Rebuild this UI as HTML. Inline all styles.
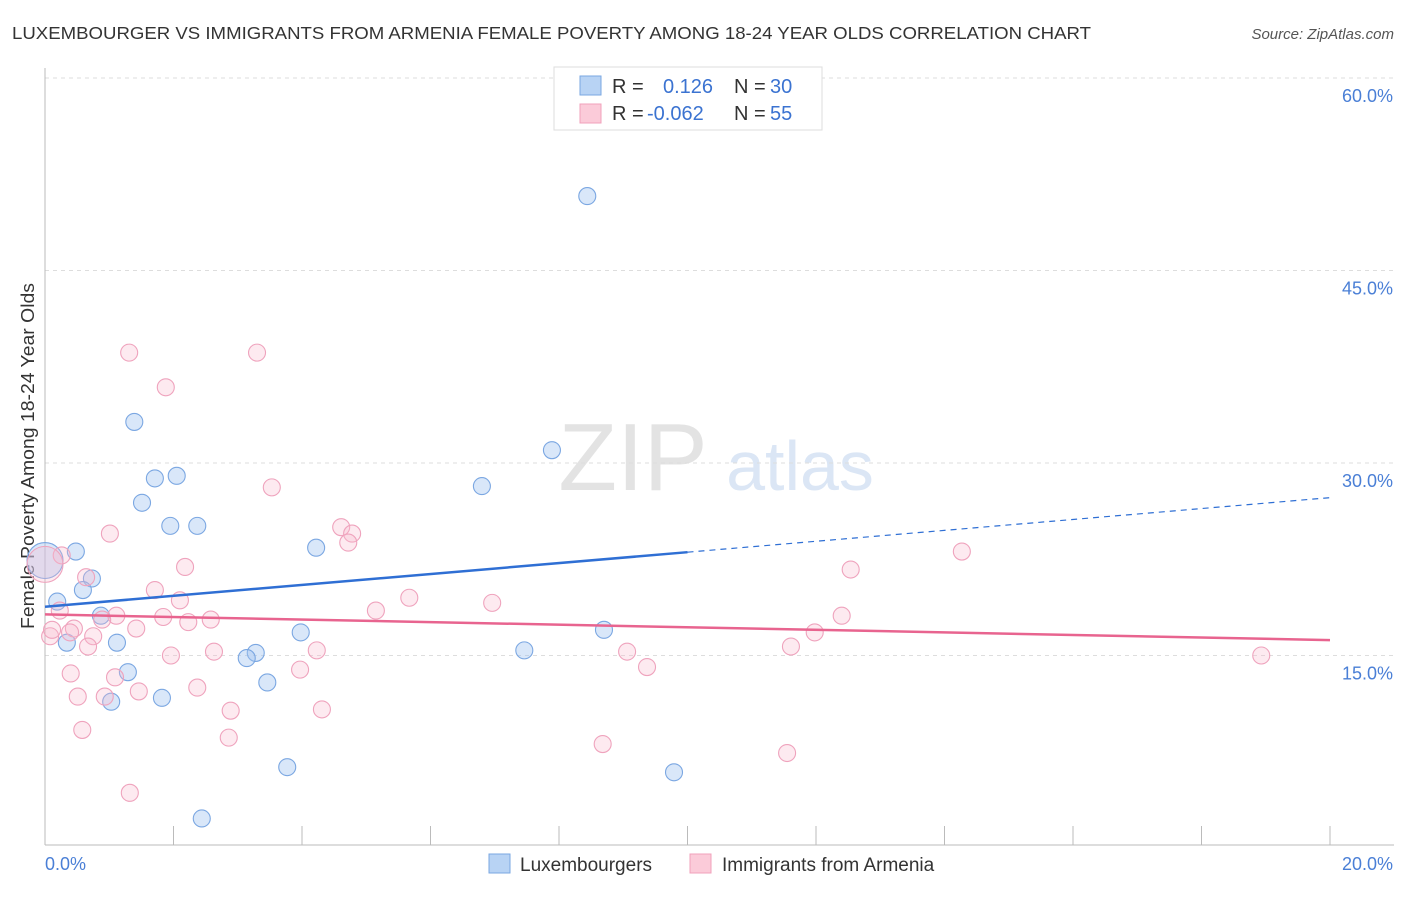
<!DOCTYPE html>
<html><head><meta charset="utf-8"><style>
body{margin:0;background:#fff;font-family:"Liberation Sans",sans-serif}
svg text{font-family:"Liberation Sans",sans-serif}
</style></head><body>
<svg id="c" width="1406" height="892">
<text x="12" y="39" font-size="17.5" fill="#333" textLength="1079" lengthAdjust="spacingAndGlyphs">LUXEMBOURGER VS IMMIGRANTS FROM ARMENIA FEMALE POVERTY AMONG 18-24 YEAR OLDS CORRELATION CHART</text>
<text x="1394" y="39" font-size="15" fill="#555" font-style="italic" text-anchor="end">Source: ZipAtlas.com</text>
<text x="633" y="490" font-size="96" fill="#e3e3e3" font-family="Liberation Serif" text-anchor="middle">ZIP</text>
<text x="800" y="490" font-size="70" fill="#dbe6f5" text-anchor="middle">atlas</text>
<text transform="translate(34,456) rotate(-90)" font-size="18" fill="#333" text-anchor="middle" textLength="346" lengthAdjust="spacingAndGlyphs">Female Poverty Among 18-24 Year Olds</text>
<g id="grid"></g><g id="pts"></g><g id="lines"></g>
<g>
<rect x="554" y="67" width="268" height="63" fill="#fff" stroke="#ddd"/>
<rect x="580" y="76" width="21" height="19" fill="#b8d3f4" stroke="#7aa7e2"/>
<rect x="580" y="104" width="21" height="19" fill="#fbcbd9" stroke="#f0a0bb"/>
<text x="612" y="93" font-size="20" fill="#333">R = </text><text x="663" y="93" font-size="20" fill="#3b73d1">0.126</text>
<text x="734" y="93" font-size="20" fill="#333">N = </text><text x="770" y="93" font-size="20" fill="#3b73d1">30</text>
<text x="612" y="120" font-size="20" fill="#333">R = </text><text x="647" y="120" font-size="20" fill="#3b73d1">-0.062</text>
<text x="734" y="120" font-size="20" fill="#333">N = </text><text x="770" y="120" font-size="20" fill="#3b73d1">55</text>
</g>
<g>
<rect x="489" y="854" width="21" height="19" fill="#b8d3f4" stroke="#7aa7e2"/>
<text x="520" y="871" font-size="19" fill="#333">Luxembourgers</text>
<rect x="690" y="854" width="21" height="19" fill="#fbcbd9" stroke="#f0a0bb"/>
<text x="722" y="871" font-size="19" fill="#333">Immigrants from Armenia</text>
</g>
</svg>
<script>
const blueX=[8.44,1.39,7.89,2.05,1.71,6.80,1.51,1.95,2.37,4.22,0.48,0.0,0.73,0.59,0.19,0.87,3.98,8.70,1.12,0.34,7.46,3.28,3.14,1.29,3.46,1.03,1.82,3.77,9.79,2.44];
const blueY=[50.8,33.2,31.0,29.0,28.8,28.2,26.9,25.1,25.1,23.4,23.1,22.4,21.0,20.1,19.2,18.1,16.8,17.0,16.0,16.0,15.4,15.2,14.8,13.7,12.9,11.4,11.7,6.3,5.9,2.3];
const pinkX=[1.31,3.30,1.88,3.53,1.01,4.61,4.78,4.72,14.27,0.26,2.18,12.54,0.64,1.71,5.67,2.10,5.15,6.96,12.40,0.23,1.11,0.89,1.42,0.45,0.39,0.08,0.11,0.75,2.23,2.58,11.98,0.67,2.63,1.96,4.23,9.06,11.61,3.97,9.37,0.40,1.09,1.46,2.37,0.51,0.93,2.89,4.31,0.58,2.86,8.68,11.55,1.32,18.93,0.0,1.84];
const pinkY=[38.6,38.6,35.9,28.1,24.5,25.0,24.5,23.8,23.1,22.8,21.9,21.7,21.1,20.1,19.5,19.3,18.5,19.1,18.1,18.5,18.1,17.8,17.1,17.1,16.8,16.5,17.0,16.5,17.6,17.8,16.8,15.7,15.3,15.0,15.4,15.3,15.7,13.9,14.1,13.6,13.3,12.2,12.5,11.8,11.8,10.7,10.8,9.2,8.6,8.1,7.4,4.3,15.0,22.1,18.0];
const blueBig=[11], pinkBig=[53];
const blueTrend=[18.8,27.3], pinkTrend=[18.2,16.2];
const yTicks=[15,30,45,60];
const xTicks=[0,2,4,6,8,10,12,14,16,18,20];
const NS='http://www.w3.org/2000/svg';
const X=v=>45+v/20*1285, Y=v=>848-v/60*770;
function mk(p,t,a){const e=document.createElementNS(NS,t);for(const k in a)e.setAttribute(k,a[k]);p.appendChild(e);return e;}
const g=document.getElementById('grid'),pts=document.getElementById('pts'),ln=document.getElementById('lines');
yTicks.forEach(v=>{
 const l=mk(g,'line',{x1:45,x2:1394,y1:Y(v),y2:Y(v),stroke:'#ddd','stroke-dasharray':'4,4'});
 
 
 const t=mk(g,'text',{x:1393,y:Y(v)+24,'font-size':18,fill:'#4a7fd6','text-anchor':'end'});t.textContent=v.toFixed(1)+'%';
 
 
});
const ax=mk(g,'line',{x1:45,x2:45,y1:68,y2:845,stroke:'#bbb'});


const bx=mk(g,'line',{x1:45,x2:1394,y1:845,y2:845,stroke:'#bbb'});


xTicks.forEach(v=>{if(v==0)return;const l=mk(g,'line',{x1:X(v),x2:X(v),y1:826,y2:845,stroke:'#bbb'});
 
 });
[[0,'0.0%',45,'start'],[20,'20.0%',1393,'end']].forEach(a=>{const t=mk(g,'text',{x:a[2],y:870,'font-size':18,fill:'#4a7fd6','text-anchor':a[3]});t.textContent=a[1];
 
 });
function drawPts(xs,ys,big,fill,stroke,name){xs.forEach((x,i)=>{
 const c=mk(pts,'circle',{cx:X(x),cy:Y(ys[i]),r:big.includes(i)?18:8.5,fill:fill,stroke:stroke,'stroke-width':1.1});
 
 });}
drawPts(blueX,blueY,blueBig,'rgba(160,196,240,0.4)','#7ba7e2','luxembourgers-point');
drawPts(pinkX,pinkY,pinkBig,'rgba(248,185,205,0.3)','#efa3bd','armenia-point');
const bm=blueTrend[0]+(blueTrend[1]-blueTrend[0])*0.5;
const b1=mk(ln,'line',{x1:X(0),y1:Y(blueTrend[0]),x2:X(10),y2:Y(bm),stroke:'#2f6fd4','stroke-width':2.5});


const b2=mk(ln,'line',{x1:X(10),y1:Y(bm),x2:X(20),y2:Y(blueTrend[1]),stroke:'#2f6fd4','stroke-width':1.2,'stroke-dasharray':'6,5'});


const p1=mk(ln,'line',{x1:X(0),y1:Y(pinkTrend[0]),x2:X(20),y2:Y(pinkTrend[1]),stroke:'#e8648f','stroke-width':2.5});


</script>
</body></html>
